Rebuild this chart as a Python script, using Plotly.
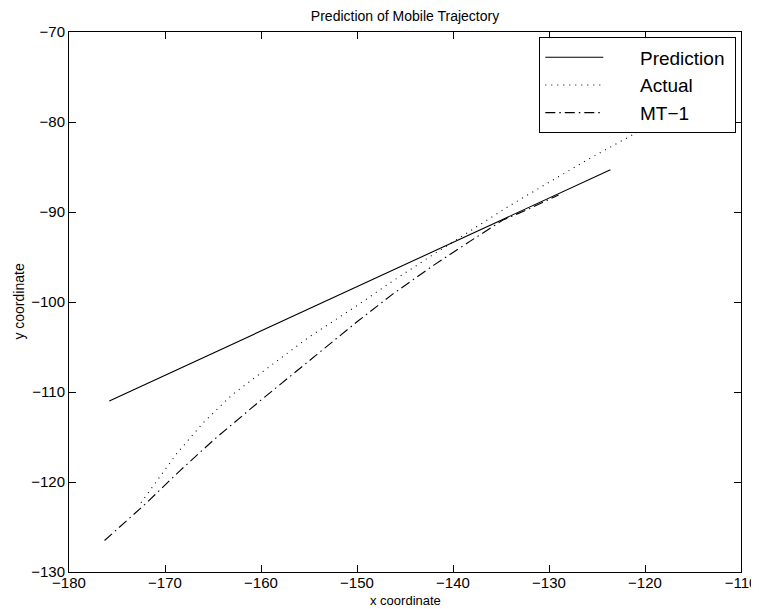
import plotly.graph_objects as go

# Prediction (solid)
pred_x = [-175.8, -123.6]
pred_y = [-111.0, -85.3]

# Actual (dotted)
act_x = [-172.5, -170.5, -168.75, -166.0, -163.0, -159.4, -155.0, -150.0, -146.6,
         -142.6, -138.0, -134.1, -130.0, -126.0, -121.6, -117.0]
act_y = [-122.3, -119.4, -116.8, -113.4, -110.3, -107.4, -103.9, -100.4, -97.9,
         -95.1, -92.0, -89.3, -86.7, -84.2, -81.6, -79.0]

# MT-1 (dash-dot)
mt_x = [-176.3, -172.0, -168.4, -164.8, -160.0, -155.0, -150.0, -146.25, -142.0,
        -138.0, -134.8, -132.0, -129.0]
mt_y = [-126.5, -122.4, -118.7, -115.2, -110.9, -106.5, -102.2, -99.1, -95.9,
        -93.1, -90.9, -89.6, -88.1]

series_names = ["Prediction", "Actual", "MT\u22121"]

x_ticks = [-180, -170, -160, -150, -140, -130, -120, -110]
y_ticks = [-130, -120, -110, -100, -90, -80, -70]

FONT = "Liberation Sans, Arial, Helvetica, sans-serif"
PAD = "\u00a0" * 6
TAIL = "\u00a0"

fig = go.Figure()
fig.add_trace(go.Scatter(x=pred_x, y=pred_y, mode="lines", name=PAD + series_names[0] + TAIL,
                         line=dict(color="black", width=1.1, dash="solid")))
fig.add_trace(go.Scatter(x=act_x, y=act_y, mode="lines", name=PAD + series_names[1],
                         line=dict(color="black", width=1.1, dash="1px,5px")))
fig.add_trace(go.Scatter(x=mt_x, y=mt_y, mode="lines", name=PAD + series_names[2],
                         line=dict(color="black", width=1.1, dash="10px,4px,1.5px,4px")))

axis_common = dict(
    showgrid=False, zeroline=False, showline=True, linecolor="black", linewidth=1,
    mirror="ticks", ticks="inside", ticklen=7, tickcolor="black", tickwidth=1,
    tickfont=dict(family=FONT, size=15, color="black"), automargin=False,
)

# The page body adds an 8px margin, so the figure is sized to fit inside the window.
fig.update_layout(
    width=751, height=601,
    margin=dict(l=61, r=18, t=24, b=37),
    paper_bgcolor="white", plot_bgcolor="white",
    font=dict(family=FONT, color="black"),
    title=dict(text="Prediction of Mobile Trajectory", xref="paper", x=0.5, xanchor="center",
               yref="container", y=0.995, yanchor="top", pad=dict(t=0, b=0),
               font=dict(family=FONT, size=14, color="black")),
    xaxis=dict(range=[-180, -110], tickvals=x_ticks,
               ticktext=[str(v).replace("-", "\u2212") for v in x_ticks],
               ticklabelstandoff=-3, **axis_common),
    yaxis=dict(range=[-130, -70], tickvals=y_ticks,
               ticktext=[str(v).replace("-", "\u2212") for v in y_ticks],
               **axis_common),
    legend=dict(x=0.993, y=0.99, xanchor="right", yanchor="top",
                bgcolor="white", bordercolor="black", borderwidth=1,
                font=dict(family=FONT, size=19, color="black"),
                itemwidth=58, tracegroupgap=0),
    annotations=[
        dict(text="x coordinate", xref="paper", yref="paper", x=0.5, y=-0.052,
             xanchor="center", yanchor="middle", showarrow=False,
             font=dict(family=FONT, size=13, color="black")),
        dict(text="y coordinate", xref="paper", yref="paper", x=-0.075, y=0.5,
             xanchor="center", yanchor="middle", showarrow=False, textangle=-90,
             font=dict(family=FONT, size=14, color="black")),
    ],
)

fig.write_html("out.html")
